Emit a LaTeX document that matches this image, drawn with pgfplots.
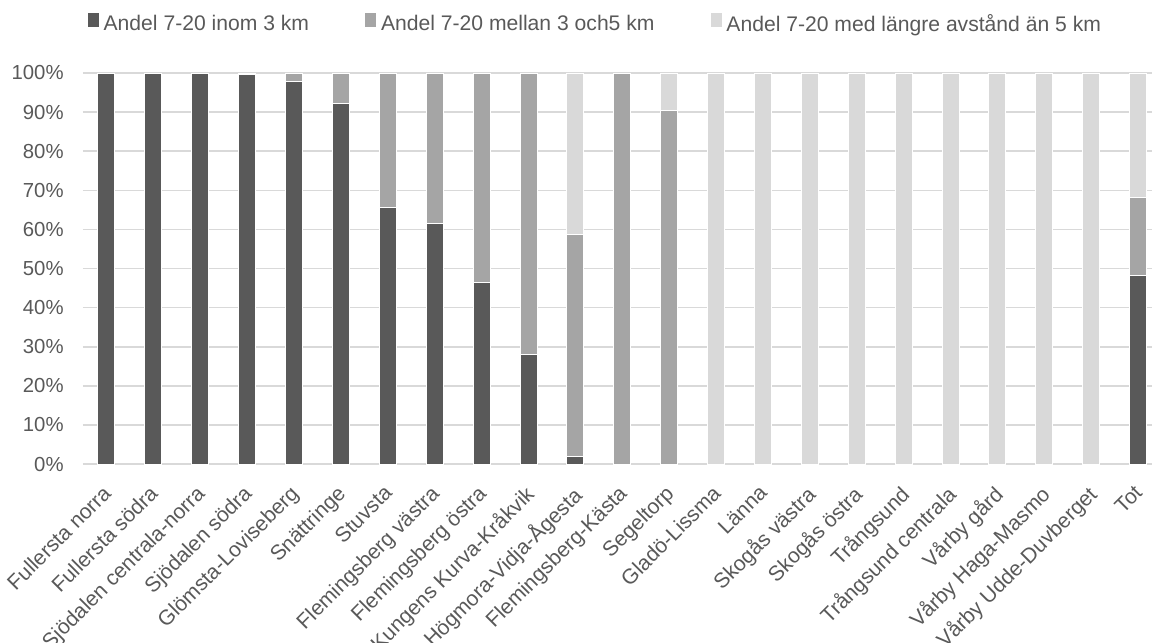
\documentclass[border=0pt]{standalone}
\usepackage{pgfplots}
\pgfplotsset{compat=1.18}
\usetikzlibrary{calc}
\usepackage{fontspec}
\setmainfont{Liberation Sans}
\definecolor{cDark}{HTML}{595959}
\definecolor{cMid}{HTML}{A5A5A5}
\definecolor{cLight}{HTML}{D9D9D9}
\definecolor{cGrid}{HTML}{D9D9D9}
\definecolor{cText}{HTML}{595959}

% andelar i procent, kategori 0..22
\pgfplotstableread{
x  inom  mellan  langre
0  100   0       0
1  100   0       0
2  100   0       0
3  99.7  0.3     0
4  97.8  2.2     0
5  92.1  7.9     0
6  65.5  34.5    0
7  61.5  38.5    0
8  46.3  53.7    0
9  28.1  71.9    0
10 1.8   56.8    41.4
11 0     100     0
12 0     90.4    9.6
13 0     0       100
14 0     0       100
15 0     0       100
16 0     0       100
17 0     0       100
18 0     0       100
19 0     0       100
20 0     0       100
21 0     0       100
22 48.2  19.9    31.9
}\andelar

\begin{document}
\begin{tikzpicture}
\begin{axis}[
    name=ax,
    scale only axis,
    width=539.3bp, height=195.5bp,
    xmin=-0.5, xmax=22.5,
    ymin=0, ymax=100,
    ybar stacked,
    bar width=8.5bp,
    ytick={0,10,...,100},
    yticklabel={\pgfmathprintnumber{\tick}\%},
    ymajorgrids,
    grid style={draw=cGrid, line width=0.8bp},
    axis line style={draw=none},
    major tick length=0,
    xtick=data,
    xticklabels={Fullersta norra, Fullersta södra, Sjödalen centrala-norra, Sjödalen södra, Glömsta-Loviseberg, Snättringe, Stuvsta, Flemingsberg västra, Flemingsberg östra, Kungens Kurva-Kråkvik, Högmora-Vidja-Ågesta, Flemingsberg-Kästa, Segeltorp, Gladö-Lissma, Länna, Skogås västra, Skogås östra, Trångsund, Trångsund centrala, Vårby gård, Vårby Haga-Masmo, Vårby Udde-Duvberget, Tot},
    xticklabel style={rotate=45, anchor=north east, inner sep=2bp, xshift=-6.7bp, yshift=-3.1bp, font=\fontsize{10.6}{12.5}\selectfont},
    yticklabel style={inner sep=5bp, xshift=-4.5bp, font=\fontsize{10.2}{12}\selectfont},
    tick label style={text=cText},
    /pgf/number format/assume math mode=true,
    legend columns=3,
    legend style={at={(0.4755,1)}, anchor=center, yshift=24.5bp, draw=none, fill=none,
        font=\fontsize{10.6}{12.5}\selectfont, text=cText,
        /tikz/every even column/.append style={column sep=25.5bp},
        /tikz/every odd column/.append style={column sep=0bp},
        inner xsep=0pt},
    legend cell align=left,
    /pgfplots/ybar legend/.style={/pgfplots/legend image code/.code={\fill[##1,draw=none] (0bp,-2bp) rectangle (4bp,2bp);}},
    every axis plot/.append style={draw=white, line width=0.5bp},
]
\addplot[fill=cDark] table[x=x, y=inom] {\andelar};
\addplot[fill=cMid] table[x=x, y=mellan] {\andelar};
\addplot[fill=cLight] table[x=x, y=langre] {\andelar};
\legend{Andel 7-20 inom 3 km, Andel 7-20 mellan 3 och5 km, Andel 7-20 med längre avstånd än 5 km}
\end{axis}
\pgfresetboundingbox
\useasboundingbox ($(ax.south west)+(-41.5bp,-89.5bp)$) rectangle ($(ax.north west)+(534.5bp,36.5bp)$);
\end{tikzpicture}
\end{document}
